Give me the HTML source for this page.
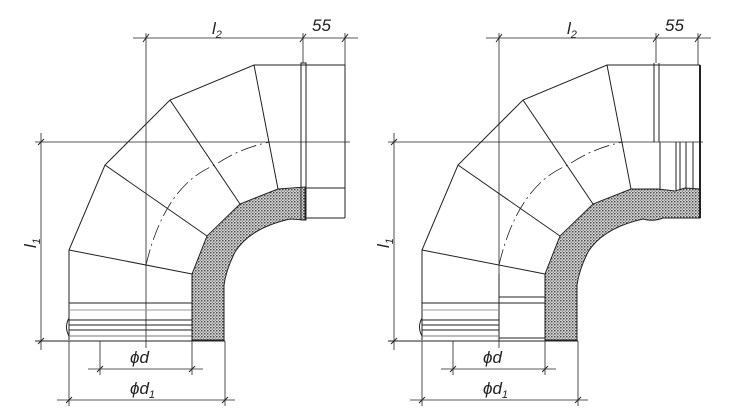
<!DOCTYPE html>
<html><head><meta charset="utf-8"><style>
html,body{margin:0;padding:0;background:#fff;}
svg{display:block;}
text{font-family:"Liberation Sans",sans-serif;font-style:italic;fill:#222;}
</style></head><body>
<svg width="740" height="416" viewBox="0 0 740 416" xmlns="http://www.w3.org/2000/svg">
<defs>
<pattern id="dots" width="3" height="3" patternUnits="userSpaceOnUse">
<rect width="3" height="3" fill="#d8d8d8"/>
<circle cx="0.8" cy="0.8" r="0.75" fill="#222"/>
<circle cx="2.3" cy="2.2" r="0.55" fill="#444"/>
</pattern>
<g id="common" fill="none" stroke="#222" stroke-width="1">
<polyline points="69,340 69,250 105,165 170,100 254,65 303,65"/>
<line x1="69" y1="250" x2="192" y2="274"/>
<line x1="105" y1="165" x2="207" y2="236"/>
<line x1="170" y1="100" x2="240" y2="204"/>
<line x1="254" y1="65" x2="278" y2="189"/>
<line x1="146" y1="33" x2="146" y2="348" stroke-width="0.8"/>
<line x1="35" y1="142" x2="350" y2="142" stroke-width="0.8"/>
<path d="M146,265 Q165,185 215,165 Q240,148 270,142" stroke-dasharray="16,4,2,4" stroke-width="0.8"/>
<line x1="133" y1="38" x2="358" y2="38" stroke-width="0.8"/>
<line x1="303" y1="33" x2="303" y2="63" stroke-width="0.8"/>
<line x1="345" y1="33" x2="345" y2="65" stroke-width="0.8"/>
<line x1="143" y1="42" x2="149" y2="34"/>
<line x1="300" y1="42" x2="306" y2="34"/>
<line x1="342" y1="42" x2="348" y2="34"/>
<line x1="41" y1="133" x2="41" y2="350" stroke-width="0.8"/>
<line x1="38" y1="145" x2="44" y2="139"/>
<line x1="38" y1="344" x2="44" y2="338"/>
<line x1="35" y1="341" x2="225" y2="341"/>
<line x1="100" y1="341" x2="100" y2="375" stroke-width="0.8"/>
<line x1="192" y1="341" x2="192" y2="375" stroke-width="0.8"/>
<line x1="88" y1="369" x2="203" y2="369" stroke-width="0.8"/>
<line x1="97" y1="372" x2="103" y2="366"/>
<line x1="189" y1="372" x2="195" y2="366"/>
<line x1="69" y1="341" x2="69" y2="406" stroke-width="0.8"/>
<line x1="225" y1="341" x2="225" y2="406" stroke-width="0.8"/>
<line x1="57" y1="400" x2="235" y2="400" stroke-width="0.8"/>
<line x1="66" y1="403" x2="72" y2="397"/>
<line x1="222" y1="403" x2="228" y2="397"/>
</g>
</defs>

<use href="#common"/>
<g fill="none" stroke="#222" stroke-width="1">
<path d="M192,274 L207,236 L240,204 L278,189 L305,187 L305,220 L290,219 Q250,228 235,252 Q226,270 224,285 L224,340 L192,340 Z" fill="url(#dots)"/>
<rect x="301" y="63" width="5" height="157"/>
<line x1="303" y1="65" x2="345" y2="65"/>
<line x1="306" y1="188" x2="345" y2="188"/>
<line x1="306" y1="218" x2="345" y2="218"/>
<line x1="345" y1="65" x2="345" y2="218"/>
<line x1="69" y1="303" x2="192" y2="303"/>
<line x1="69" y1="310" x2="192" y2="310" stroke="#999"/>
<line x1="69" y1="320" x2="192" y2="320"/>
<line x1="69" y1="325" x2="192" y2="325"/>
<line x1="69" y1="330" x2="192" y2="330"/>
<line x1="69" y1="336" x2="192" y2="336" stroke="#777"/>
<path d="M69,318 Q64,327 69,336"/>
<line x1="192" y1="274" x2="192" y2="340"/>
</g>
<text x="212" y="34" font-size="17">l<tspan font-size="11" dy="4">2</tspan></text>
<text x="312" y="31" font-size="17">55</text>
<text x="130" y="363" font-size="17">ϕd</text>
<text x="130" y="394" font-size="17">ϕd<tspan font-size="11" dy="4">1</tspan></text>
<text transform="translate(36,248) rotate(-90)" font-size="17">l<tspan font-size="11" dy="4">1</tspan></text>

<use href="#common" x="353"/>
<g fill="none" stroke="#222" stroke-width="1" transform="translate(353,0)">
<path d="M192,274 L207,236 L240,204 L278,189 L305,189 L322,191 L332,188 L347,189 L347,218 L310,218 Q300,222 290,219 Q250,228 235,252 Q226,270 224,285 L224,340 L192,340 Z" fill="url(#dots)"/>
<line x1="301" y1="63" x2="301" y2="142"/>
<line x1="306" y1="63" x2="306" y2="142"/>
<line x1="307" y1="142" x2="307" y2="189"/>
<line x1="323" y1="142" x2="323" y2="190"/>
<line x1="327" y1="142" x2="327" y2="190"/>
<line x1="333" y1="142" x2="333" y2="189"/>
<line x1="340" y1="142" x2="340" y2="189"/>
<line x1="303" y1="65" x2="347" y2="65"/>
<line x1="347" y1="65" x2="347" y2="218" stroke-width="2"/>
<line x1="146" y1="274" x2="146" y2="340"/>
<line x1="146" y1="297" x2="192" y2="297"/>
<line x1="146" y1="303" x2="192" y2="303"/>
<line x1="146" y1="338" x2="192" y2="338"/>
<line x1="69" y1="303" x2="146" y2="303"/>
<line x1="69" y1="310" x2="146" y2="310" stroke="#999"/>
<line x1="69" y1="320" x2="146" y2="320"/>
<line x1="69" y1="325" x2="146" y2="325"/>
<line x1="69" y1="330" x2="146" y2="330"/>
<line x1="69" y1="336" x2="146" y2="336" stroke="#777"/>
<path d="M69,318 Q64,327 69,336"/>
<line x1="192" y1="274" x2="192" y2="340"/>
</g>
<text x="567" y="34" font-size="17">l<tspan font-size="11" dy="4">2</tspan></text>
<text x="665" y="31" font-size="17">55</text>
<text x="483" y="363" font-size="17">ϕd</text>
<text x="483" y="394" font-size="17">ϕd<tspan font-size="11" dy="4">1</tspan></text>
<text transform="translate(389,248) rotate(-90)" font-size="17">l<tspan font-size="11" dy="4">1</tspan></text>
</svg>
</body></html>
